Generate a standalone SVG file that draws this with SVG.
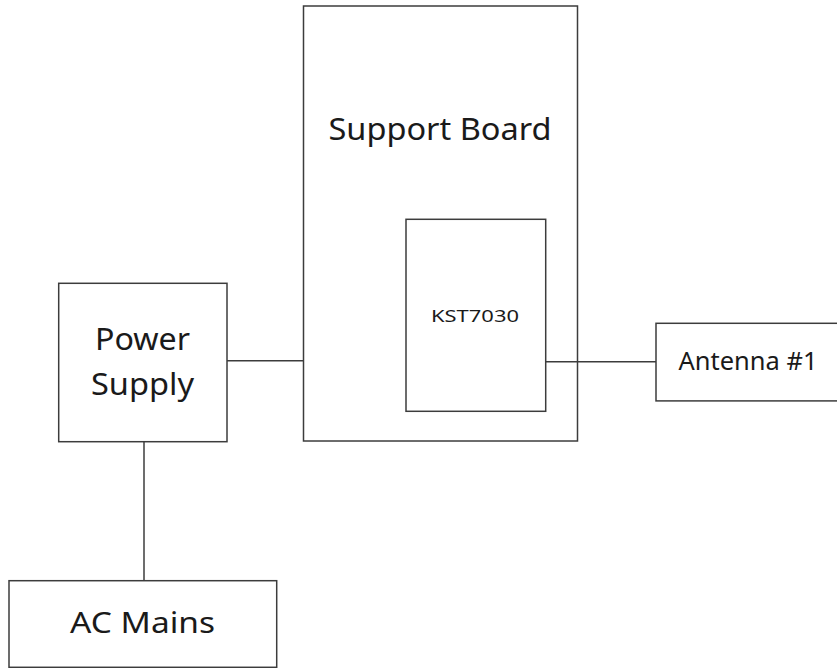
<svg xmlns="http://www.w3.org/2000/svg" width="837" height="668" viewBox="0 0 837 668">
<style>
.box{fill:#ffffff;stroke:#3c3c3c;stroke-width:1.5}
.wire{stroke:#3c3c3c;stroke-width:1.5;fill:none}
.lbl{font-family:"Noto Sans","Liberation Sans",sans-serif;fill:#1a1a1a;text-anchor:middle}
</style>
<rect width="837" height="668" fill="#ffffff"/>
<g id="support-board">
<rect class="box" x="303.5" y="6" width="274" height="435"/>
<text class="lbl" x="440" y="140" font-size="30" textLength="223" lengthAdjust="spacingAndGlyphs">Support Board</text>
</g>
<g id="kst7030">
<rect class="box" x="406" y="219.3" width="139.7" height="192"/>
<text class="lbl" x="475" y="321.7" font-size="17" textLength="88" lengthAdjust="spacingAndGlyphs">KST7030</text>
</g>
<g id="power-supply">
<rect class="box" x="58.7" y="283.3" width="168.3" height="158.4"/>
<text class="lbl" x="142.5" y="350" font-size="31" textLength="95" lengthAdjust="spacingAndGlyphs">Power</text>
<text class="lbl" x="142.5" y="395" font-size="31" textLength="103" lengthAdjust="spacingAndGlyphs">Supply</text>
</g>
<g id="ac-mains">
<rect class="box" x="9" y="580.7" width="267.7" height="86.6"/>
<text class="lbl" x="142.5" y="633.3" font-size="29" textLength="145" lengthAdjust="spacingAndGlyphs">AC Mains</text>
</g>
<g id="antenna-1">
<rect class="box" x="656" y="323.3" width="190" height="77.6"/>
<text class="lbl" x="748" y="370" font-size="25" textLength="139" lengthAdjust="spacingAndGlyphs">Antenna #1</text>
</g>
<g id="connectors">
<line class="wire" x1="227" y1="360.7" x2="303.5" y2="360.7"/>
<line class="wire" x1="144" y1="441.7" x2="144" y2="580.7"/>
<line class="wire" x1="545.7" y1="361.7" x2="656" y2="361.7"/>
</g>
</svg>
